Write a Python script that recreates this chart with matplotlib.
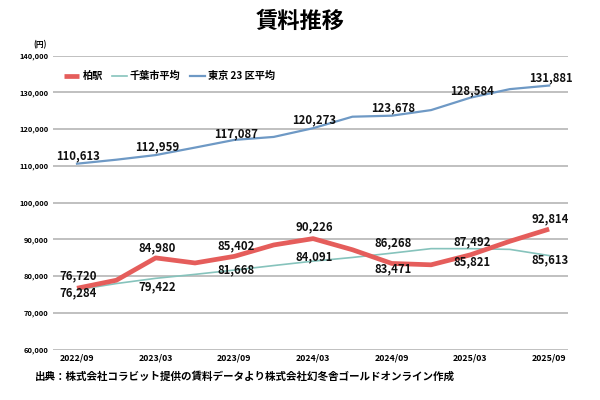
import numpy as np
import matplotlib
matplotlib.use('Agg')
import matplotlib.pyplot as plt

plt.rcParams['font.family'] = ['Noto Sans CJK JP', 'DejaVu Sans']

# quarterly data, 2022/09 .. 2025/09
kikan = ['2022/09', '2022/12', '2023/03', '2023/06', '2023/09', '2023/12', '2024/03',
         '2024/06', '2024/09', '2024/12', '2025/03', '2025/06', '2025/09']
kashiwa = [76720, 78900, 84980, 83600, 85402, 88500, 90226, 87200, 83471, 83100, 85821, 89500, 92814]
chiba = [76284, 78000, 79422, 80500, 81668, 82900, 84091, 85100, 86268, 87500, 87492, 87300, 85613]
tokyo = [110613, 111700, 112959, 115000, 117087, 117900, 120273, 123400, 123678, 125200, 128584, 130900, 131881]

tick_labels = ['2022/09', '2023/03', '2023/09', '2024/03', '2024/09', '2025/03', '2025/09']
yticks = [60000, 70000, 80000, 90000, 100000, 110000, 120000, 130000, 140000]

# label offsets (pixels, up is positive) for the semi-annual points
off_kashiwa = [12, 10, 11, 12, -5, -7, 10]
off_chiba = [-3, -9, 0, 4, 10, 7, -4]
off_tokyo = [7.5, 8, 6, 8, 7.5, 7, 8]

c_kashiwa = '#e55d5b'
c_chiba = '#86c3bc'
c_tokyo = '#6e99c5'

fig = plt.figure(figsize=(6, 4), dpi=100)
ax = fig.add_axes([53/600, 50.3/400, 515/600, 294/400])

x = np.arange(len(kikan))
ax.plot(x, chiba, color=c_chiba, lw=1.2, label='千葉市平均', zorder=3)
ax.plot(x, tokyo, color=c_tokyo, lw=1.6, label='東京 23 区平均', zorder=3)
ax.plot(x, kashiwa, color=c_kashiwa, lw=3.4, label='柏駅', zorder=4,
        solid_capstyle='butt')

for series, offs in [(kashiwa, off_kashiwa), (chiba, off_chiba), (tokyo, off_tokyo)]:
    for k, i in enumerate(range(0, len(kikan), 2)):
        ax.annotate(f'{series[i]:,}', (x[i], series[i]),
                    xytext=(1, offs[k] * 0.72), textcoords='offset points',
                    ha='center', va='center', fontsize=8.2, fontweight='bold',
                    color='#111111', zorder=5)

ax.set_xlim(-0.61, 12.48)
ax.set_ylim(60000, 140000)
ax.set_yticks(yticks)
ax.set_yticklabels([f'{v:,}' for v in yticks], fontsize=5.4, fontweight='bold')
ax.set_xticks(x[::2])
ax.set_xticklabels(tick_labels, fontsize=6.3, fontweight='bold')
ax.tick_params(length=0, pad=3)
ax.tick_params(axis='y', pad=3)
ax.grid(axis='y', color='#b5b5b5', lw=1.2)
ax.set_axisbelow(True)
for s in ax.spines.values():
    s.set_visible(False)

h, l = ax.get_legend_handles_labels()
order = [2, 0, 1]
ax.legend([h[i] for i in order], [l[i] for i in order], ncol=3, frameon=False,
          loc='center left', bbox_to_anchor=(55/600, 1 - 76/400),
          bbox_transform=fig.transFigure, handlelength=1.5, handletextpad=0.3,
          columnspacing=0.9, prop={'size': 7.3, 'weight': 'bold'})

fig.text(0.5, 1 - 21/400, '賃料推移', ha='center', va='center',
         fontsize=16, fontweight='bold')
fig.text(40/600, 1 - 45/400, '(円)', ha='center', va='center', fontsize=5.5,
         fontweight='bold')
fig.text(35/600, 1 - 376/400, '出典：株式会社コラビット提供の賃料データより株式会社幻冬舎ゴールドオンライン作成',
         ha='left', va='center', fontsize=7.6, fontweight='bold')

fig.savefig('out.png', dpi=100, facecolor='white')
